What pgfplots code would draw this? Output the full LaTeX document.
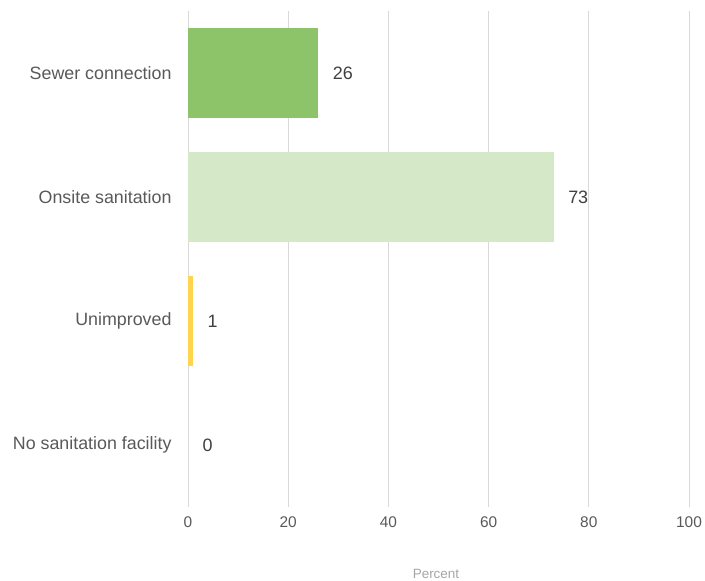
\documentclass[border=0pt]{standalone}
\usepackage{pgfplots}
\pgfplotsset{compat=1.18}
\usepackage{fontspec}
\setmainfont{Liberation Sans}
\definecolor{gridc}{HTML}{D9D9D9}
\definecolor{catc}{HTML}{595959}
\definecolor{valc}{HTML}{404040}
\definecolor{labc}{HTML}{A6A6A6}
\definecolor{c1}{HTML}{8DC46A}
\definecolor{c2}{HTML}{D5E8C8}
\definecolor{c3}{HTML}{FFD54F}
\begin{document}
\begin{tikzpicture}
\useasboundingbox (0,0) rectangle (705bp,581bp);
\begin{axis}[
  at={(188bp,74bp)}, anchor=south west,
  scale only axis, width=501bp, height=496bp,
  xmin=0, xmax=100, ymin=-0.5, ymax=3.5, y dir=reverse,
  xbar, bar width=0.72, bar shift=0pt,
  axis line style={draw=none},
  xtick={0,20,40,60,80,100},
  ytick={0,1,2,3},
  yticklabels={Sewer connection,Onsite sanitation,Unimproved,No sanitation facility},
  major tick length=0pt,
  xmajorgrids, grid style={gridc, line width=1bp},
  /pgf/number format/assume math mode=true,
  xticklabel style={font=\fontsize{15.5}{18}\selectfont, text=catc, yshift=-6bp},
  yticklabel style={font=\fontsize{17.9}{20}\selectfont, text=catc, xshift=-13bp},
  xlabel={Percent},
  xlabel style={at={(axis description cs:0.495,0)}, anchor=center, yshift=-67bp, font=\fontsize{13.5}{16}\selectfont, text=labc},
  nodes near coords,
  every node near coord/.append style={font=\fontsize{18}{20}\selectfont, text=valc, anchor=west, xshift=11bp},
  point meta=explicit symbolic,
  clip=false,
]
\addplot[fill=c1, draw=none] coordinates {(26,0) [26]};
\addplot[fill=c2, draw=none] coordinates {(73,1) [73]};
\addplot[fill=c3, draw=none] coordinates {(1,2) [1]};
\addplot[fill=none, draw=none] coordinates {(0,3) [0]};
\end{axis}
\end{tikzpicture}
\end{document}
